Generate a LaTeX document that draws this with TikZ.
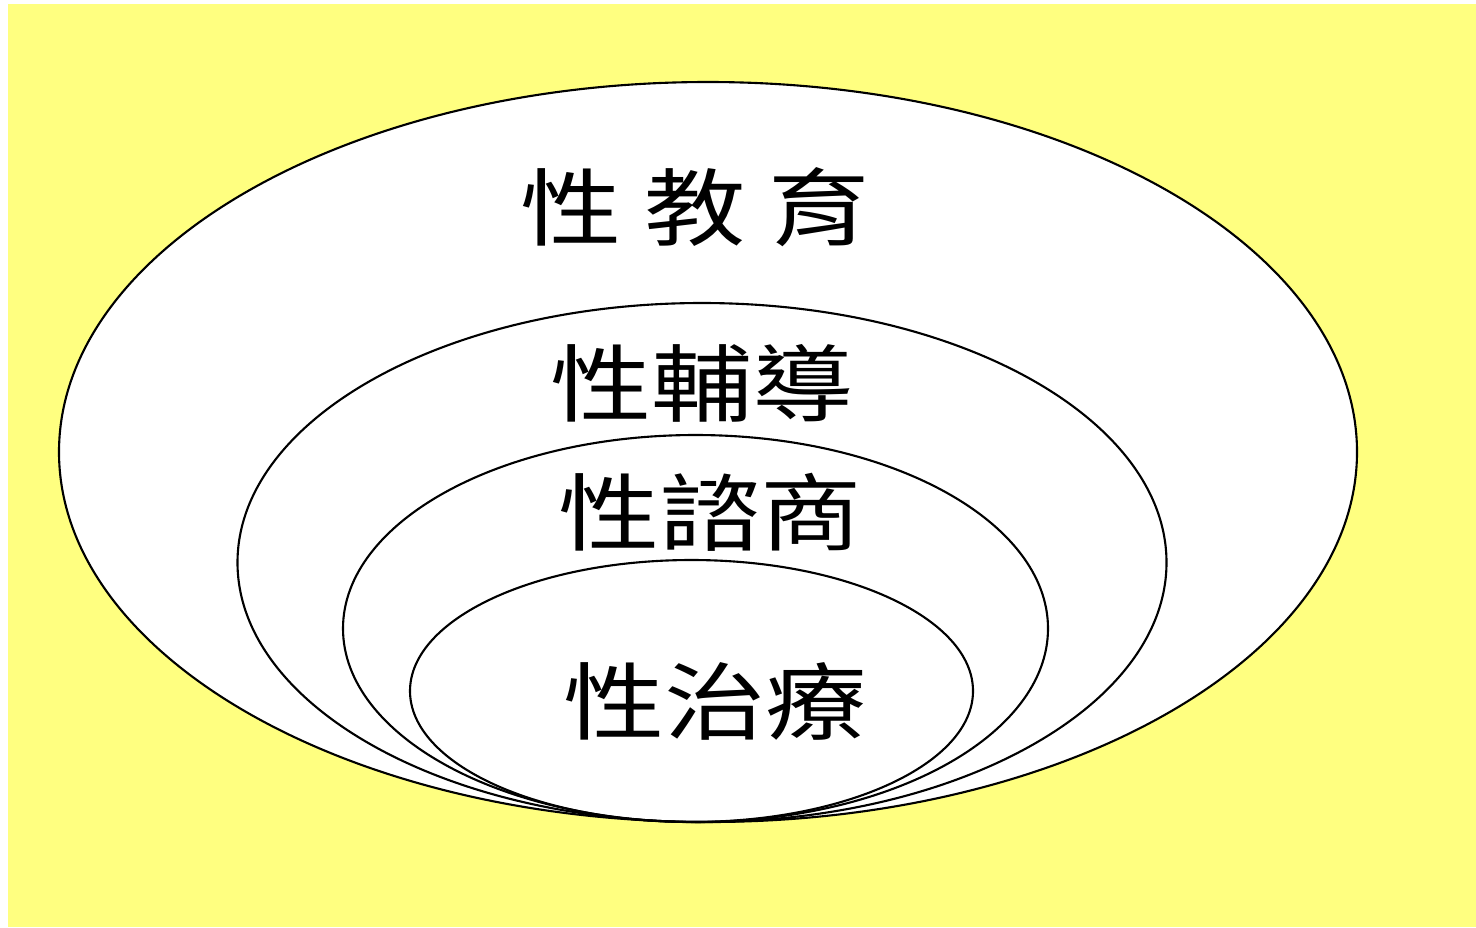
\documentclass[tikz,border=0pt]{standalone}
\usepackage{fontspec}
\newfontfamily\cjk{Noto Sans CJK TC}
\definecolor{paleyellow}{RGB}{255,255,128}
\tikzset{
  ring/.style = {draw=black, line width=0.6pt},
  word/.style = {font=\cjk\fontsize{24}{28}\selectfont, xscale=1.2,
                 transform shape, inner sep=0pt}
}

\begin{document}
\begin{tikzpicture}[x=0.01cm, y=-0.01cm]
	\def \W{1476}
	\def \H{927}
	\def \bottom{822}
	
	% Background
	\useasboundingbox (0,0) rectangle (\W,\H);
	\fill[white] (0,0) rectangle (\W,\H);
	\fill[paleyellow] (8,4) rectangle (\W,\H);
	
	% Ellipses (all touch at the bottom)
	\fill[white] (708,452) ellipse [x radius=649, y radius=370];
	\draw[ring]  (708,452) ellipse [x radius=649, y radius=370]; % education
	\draw[ring]  (702,562.5) ellipse [x radius=464.5, y radius=259.5]; % guidance
	\draw[ring]  (695.5,628.5) ellipse [x radius=352.5, y radius=193.5]; % counselling
	\draw[ring]  (691.5,691) ellipse [x radius=281.5, y radius=131]; % therapy
	
	% Labels
	\node[word] (edu)     at (695,207) {性 教 育};
	\node[word] (guide)   at (702,383) {性輔導};
	\node[word] (consult) at (710,512) {性諮商};
	\node[word] (therapy) at (715,701) {性治療};
	
\end{tikzpicture}
\end{document}
